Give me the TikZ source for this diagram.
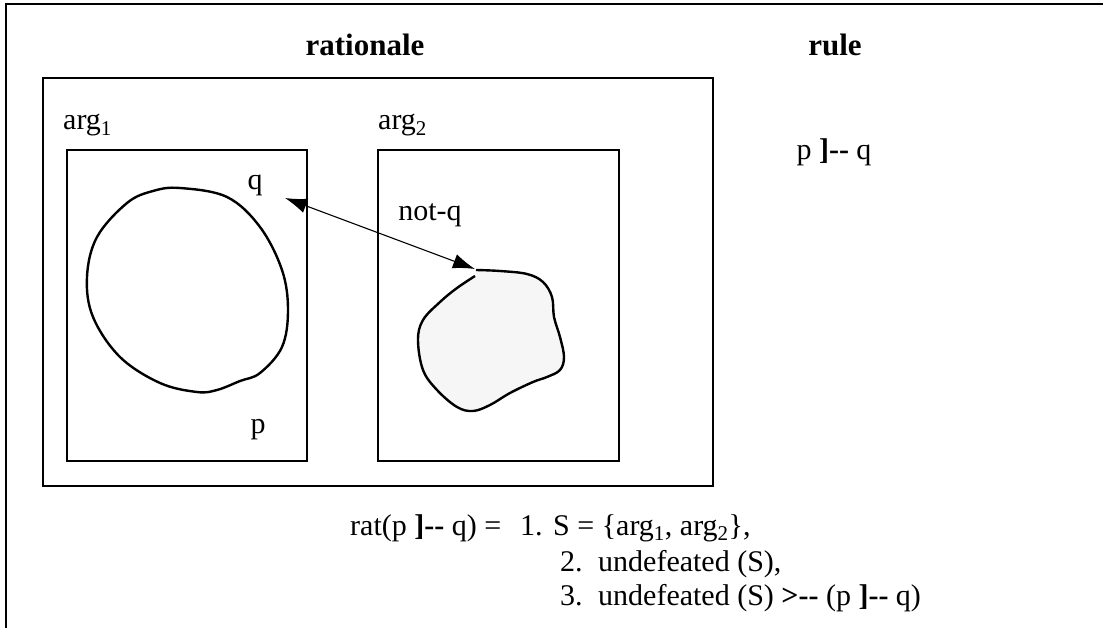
\documentclass[tikz,border=0pt]{standalone}
\usepackage{fontspec}
\setmainfont{Liberation Serif}
\usetikzlibrary{arrows.meta}
\begin{document}
\begin{tikzpicture}[x=1pt, y=-1pt, >={Latex[length=22pt,width=15pt]},
  frame/.style={line width=2.4pt},
  txt/.style={inner sep=0pt, font=\fontsize{30}{34}\selectfont}]
  \useasboundingbox (0,0) rectangle (1103,628);

  % Marco exterior
  \draw[frame] (1103,4) -- (6,4) -- (6,628);

  % Titulos
  \node[txt, font=\fontsize{31}{34}\selectfont\bfseries] (ratTitle) at (365,45) {rationale};
  \node[txt, font=\fontsize{31}{34}\selectfont\bfseries] (ruleTitle) at (835,45) {rule};

  % Cajas
  \draw[frame] (43,78) rectangle (713,486);
  \draw[frame] (67,150) rectangle (307,461);
  \draw[frame] (378,150) rectangle (619,461);

  % Etiquetas de argumentos
  \node[txt, anchor=base west] (argOne) at (63,130) {arg\textsubscript{1}};
  \node[txt, anchor=base west] (argTwo) at (378,130) {arg\textsubscript{2}};
  \node[txt] (qLbl) at (255,185) {q};
  \node[txt] (pLbl) at (258,430) {p};
  \node[txt] (notqLbl) at (430,215) {not-q};

  % Region de q
  \draw[frame] plot[smooth cycle, tension=0.6] coordinates {
    (180,188) (227,197) (260,227) (282,270) (288,310) (282,347)
    (260,373) (240,381) (217,390) (197,392) (160,383) (120,357)
    (93,317) (87,277) (97,237) (127,203) (153,191)};

  % Region de not-q
  \draw[frame, fill=gray!7] plot[smooth, tension=0.6] coordinates {
    (476,270) (500,271) (527,274) (543,282) (552,297) (554,317)
    (560,337) (564,357) (560,370) (547,377) (533,382) (510,393)
    (490,405) (473,411) (457,407) (437,390) (423,370) (418,340)
    (423,320) (440,302) (457,288) (475,276)};

  % Ataque
  \coordinate (qTip) at (285,198);
  \coordinate (notqTip) at (475,269);
  \draw[<->, line width=1.1pt] (qTip) -- (notqTip);

  % Regla
  \node[txt] (ruleTxt) at (834,152) {p {\bfseries ]-{}-} q};

  % Definicion de rat
  \node[txt, anchor=base west] (ratDef) at (350,535) {rat(p {\bfseries ]-{}-} q) =};
  \node[txt, anchor=base west] (itemOne) at (520,535) {1.};
  \node[txt, anchor=base west] (condOne) at (553,535) {S = \{arg\textsubscript{1}, arg\textsubscript{2}\},};
  \node[txt, anchor=base west] (itemTwo) at (560,571) {2.};
  \node[txt, anchor=base west] (condTwo) at (598,571) {undefeated (S),};
  \node[txt, anchor=base west] (itemThree) at (560,605) {3.};
  \node[txt, anchor=base west] (condThree) at (598,605) {undefeated (S) {\bfseries >-{}-} (p {\bfseries ]-{}-} q)};
\end{tikzpicture}
\end{document}
